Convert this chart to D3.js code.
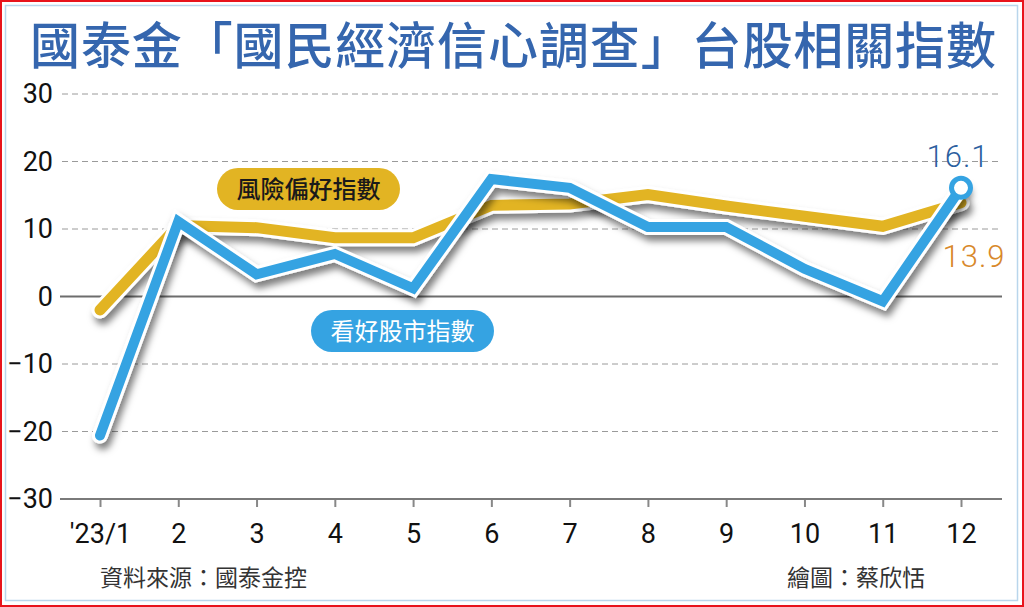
<!DOCTYPE html>
<meta charset="utf-8">
<title>國泰金 國民經濟信心調查</title>
<style>

html, body {
  margin: 0;
  padding: 0;
  background: #fff;
}

svg {
  display: block;
  font-family: "Noto Sans CJK TC", "Noto Sans", sans-serif;
}

.grid line {
  stroke: #9a9a9a;
  stroke-width: 1px;
  stroke-dasharray: 6 4;
}

.tick text {
  font-family: Roboto, "Liberation Sans", sans-serif;
  font-size: 27px;
  fill: #111;
}

path.line {
  fill: none;
  stroke-linecap: round;
  stroke-linejoin: miter;
}

</style>
<body>
<script src="https://cdn.jsdelivr.net/npm/d3@7"></script>
<script>

var months = ["'23/1", "2", "3", "4", "5", "6", "7", "8", "9", "10", "11", "12"];
var riskAppetite = [-2.0, 10.5, 10.2, 8.7, 8.7, 13.5, 13.7, 15.1, 13.4, 11.9, 10.4, 13.9];
var stockOutlook = [-20.6, 11.1, 3.3, 6.3, 1.2, 17.4, 16.1, 10.3, 10.3, 4.1, -0.7, 16.1];
var yTicks = [30, 20, 10, 0, -10, -20, -30];

var width = 1024,
    height = 607;

var x = d3.scalePoint()
    .domain(months)
    .range([100, 961]);

var y = d3.scaleLinear()
    .domain([-30, 30])
    .range([499, 94]);

var svg = d3.select("body").append("svg")
    .attr("width", width)
    .attr("height", height);

var defs = svg.append("defs");

var shadow = defs.append("filter")
    .attr("id", "shadow")
    .attr("x", "-10%").attr("y", "-10%")
    .attr("width", "130%").attr("height", "140%");
shadow.append("feDropShadow")
    .attr("dx", 3)
    .attr("dy", 6)
    .attr("stdDeviation", 3.5)
    .attr("flood-color", "#000")
    .attr("flood-opacity", 0.5);

// frame: red outer edge, thin light blue inner line
svg.append("rect")
    .attr("x", 1).attr("y", 1)
    .attr("width", width - 2).attr("height", height - 2)
    .attr("fill", "#fff")
    .attr("stroke", "#e8141c")
    .attr("stroke-width", 2);

svg.append("rect")
    .attr("x", 5.5).attr("y", 5.5)
    .attr("width", 1012).attr("height", 595)
    .attr("fill", "none")
    .attr("stroke", "#b9d6ec")
    .attr("stroke-width", 1.5);

svg.append("text")
    .attr("x", 30)
    .attr("y", 64)
    .attr("textLength", 966)
    .attr("lengthAdjust", "spacing")
    .attr("fill", "#3566ae")
    .attr("font-size", 50)
    .attr("font-weight", 500)
    .text("國泰金「國民經濟信心調查」台股相關指數");

// gridlines
svg.append("g")
    .attr("class", "grid")
  .selectAll("line")
    .data(yTicks.filter(function(d) { return d !== 0 && d !== -30; }))
  .enter().append("line")
    .attr("x1", 62).attr("x2", 1002)
    .attr("y1", function(d) { return y(d); })
    .attr("y2", function(d) { return y(d); });

svg.append("line")
    .attr("x1", 60).attr("x2", 1002)
    .attr("y1", y(0)).attr("y2", y(0))
    .attr("stroke", "#6d6d6d")
    .attr("stroke-width", 1.8);

// y axis labels
var yAxis = d3.axisLeft(y)
    .tickValues(yTicks)
    .tickSize(0)
    .tickPadding(0);

svg.append("g")
    .attr("transform", "translate(53,0)")
    .call(yAxis)
    .call(function(g) { g.select(".domain").remove(); });

// x axis at -30
var xAxis = d3.axisBottom(x)
    .tickSize(8)
    .tickPadding(12)
    .tickSizeOuter(0);

var gx = svg.append("g")
    .attr("transform", "translate(0," + y(-30) + ")")
    .call(xAxis);

gx.select(".domain").remove();
gx.selectAll(".tick line")
    .attr("stroke", "#888")
    .attr("stroke-width", 2);
gx.selectAll(".tick text")
    .attr("dy", "0.9em");

svg.append("line")
    .attr("x1", 60).attr("x2", 1002)
    .attr("y1", y(-30)).attr("y2", y(-30))
    .attr("stroke", "#7a7a7a")
    .attr("stroke-width", 2);

var line = d3.line()
    .x(function(d, i) { return x(months[i]); })
    .y(function(d) { return y(d); });

function drawSeries(values, color, w) {
  svg.append("path")
      .datum(values)
      .attr("class", "line")
      .attr("d", line)
      .attr("stroke", "#fff")
      .attr("stroke-width", w + 6)
      .attr("filter", "url(#shadow)");
  svg.append("path")
      .datum(values)
      .attr("class", "line")
      .attr("d", line)
      .attr("stroke", color)
      .attr("stroke-width", w);
}

drawSeries(riskAppetite, "#e2b423", 11);
drawSeries(stockOutlook, "#35a3e2", 10);

// end marker on the last blue point
var last = stockOutlook.length - 1;
svg.append("circle")
    .attr("cx", x(months[last]))
    .attr("cy", y(stockOutlook[last]))
    .attr("r", 9.5)
    .attr("fill", "#fff")
    .attr("stroke", "#35a3e2")
    .attr("stroke-width", 5);

svg.append("text")
    .attr("x", x(months[last]) - 3)
    .attr("y", y(stockOutlook[last]) - 21)
    .attr("text-anchor", "middle")
    .attr("font-family", "Roboto, sans-serif")
    .attr("font-weight", 300)
    .attr("font-size", 31)
    .attr("letter-spacing", 1)
    .attr("fill", "#2c5f9f")
    .text(stockOutlook[last].toFixed(1));

svg.append("text")
    .attr("x", x(months[last]) + 13)
    .attr("y", y(riskAppetite[last]) + 64)
    .attr("text-anchor", "middle")
    .attr("font-family", "Roboto, sans-serif")
    .attr("font-weight", 300)
    .attr("font-size", 31)
    .attr("letter-spacing", 1)
    .attr("fill", "#d8882a")
    .text(riskAppetite[last].toFixed(1));

// legend pills
function pill(px, py, label, color, textColor, weight) {
  svg.append("rect")
      .attr("x", px).attr("y", py)
      .attr("width", 183).attr("height", 42)
      .attr("rx", 21)
      .attr("fill", color);
  svg.append("text")
      .attr("x", px + 91.5)
      .attr("y", py + 30)
      .attr("text-anchor", "middle")
      .attr("font-size", 24)
      .attr("font-weight", weight)
      .attr("fill", textColor)
      .text(label);
}

pill(217, 168, "風險偏好指數", "#e2b423", "#1a1a1a", 500);
pill(311, 310, "看好股市指數", "#35a3e2", "#fff", 400);

svg.append("text")
    .attr("x", 100)
    .attr("y", 586)
    .attr("font-size", 23)
    .attr("fill", "#333")
    .text("資料來源：國泰金控");

svg.append("text")
    .attr("x", 787)
    .attr("y", 586)
    .attr("font-size", 23)
    .attr("fill", "#333")
    .text("繪圖：蔡欣恬");

</script>
</body>
</html>
